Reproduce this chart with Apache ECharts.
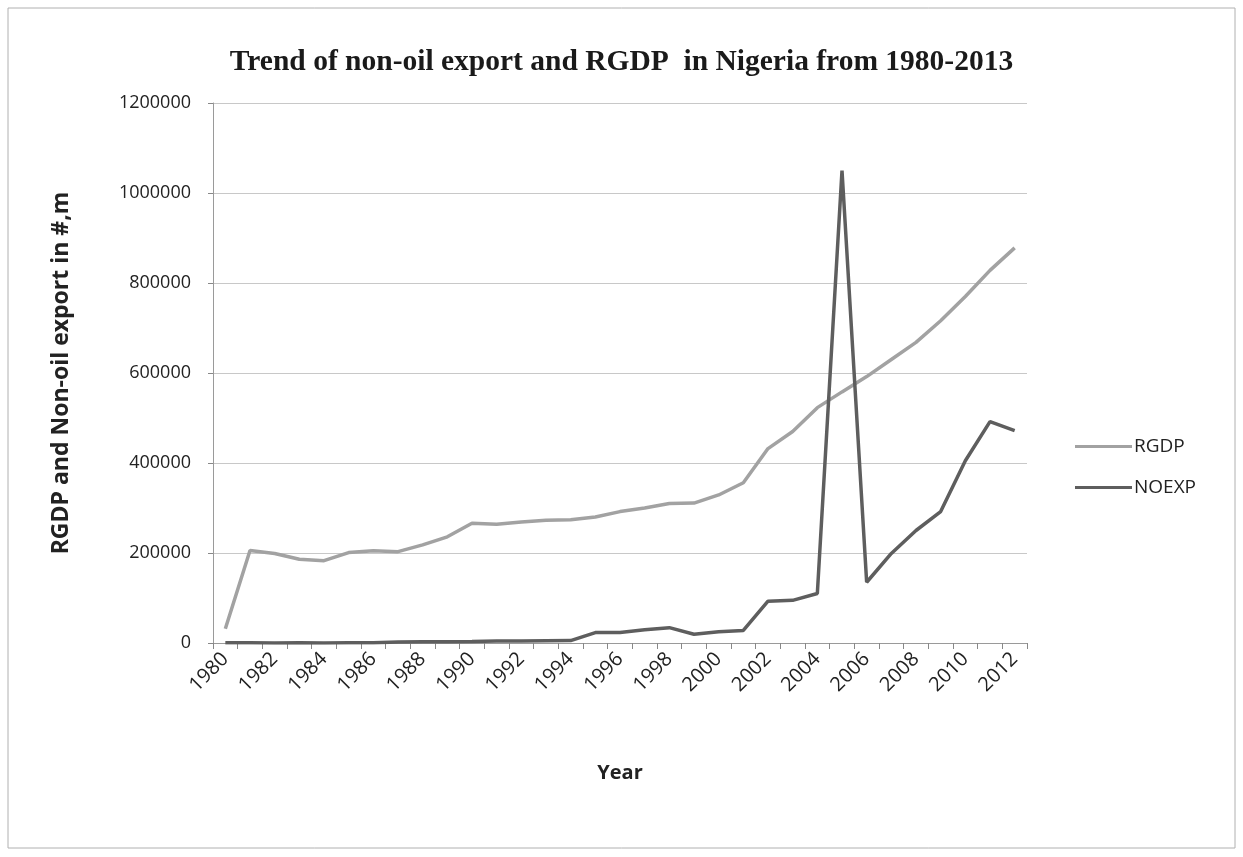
<!DOCTYPE html>
<html>
<head>
<meta charset="utf-8">
<script src="https://cdn.jsdelivr.net/npm/echarts@6/dist/echarts.min.js"></script>
<style>
html,body{margin:0;padding:0;background:#fff;}
#chart{width:1243px;height:857px;}
</style>
</head>
<body>
<div id="chart"></div>
<script>
const years = ["1980","1981","1982","1983","1984","1985","1986","1987","1988","1989","1990","1991","1992","1993","1994","1995","1996","1997","1998","1999","2000","2001","2002","2003","2004","2005","2006","2007","2008","2009","2010","2011","2012"];
const rgdp = [31500,205500,199000,186000,183000,201000,205000,203000,218000,236000,266000,264000,269000,273000,274000,280000,292000,300000,310000,311000,329000,356000,432000,470000,523000,558000,592000,630000,668000,716000,770000,828000,878000];
const noexp = [550,340,200,300,250,500,550,2150,2750,2950,3260,4680,4230,4990,5350,23100,23300,29200,34100,19500,24800,28000,93000,94800,110000,1050000,135000,199000,250000,292000,405000,492000,472000];
const yTicks = [0,200000,400000,600000,800000,1000000,1200000];

const chart = echarts.init(document.getElementById('chart'));
chart.setOption({
  backgroundColor: '#ffffff',
  animation: false,
  title: {
    text: 'Trend of non-oil export and RGDP  in Nigeria from 1980-2013',
    left: 'center', top: 42,
    textStyle: {fontFamily: 'Liberation Serif', fontWeight: 'bold', fontSize: 29.5, color: '#1a1a1a'}
  },
  legend: {
    orient: 'vertical', left: 1070, top: 432, itemGap: 22,
    itemWidth: 57, itemHeight: 3,
    icon: 'rect',
    textStyle: {fontFamily: 'Open Sans', fontSize: 19, color: '#222', padding: [0,0,0,-3]},
    data: ['RGDP','NOEXP']
  },
  grid: {left: 213, right: 216, top: 103, bottom: 214},
  xAxis: {
    type: 'category', data: years, boundaryGap: true,
    name: 'Year', nameLocation: 'middle', nameGap: 120,
    nameTextStyle: {fontFamily: 'Open Sans', fontWeight: 'bold', fontSize: 20, color: '#222'},
    axisLine: {lineStyle: {color: '#9a9a9a', width: 1}},
    axisTick: {show: true, alignWithLabel: false, interval: 0, length: 6, lineStyle: {color: '#888'}},
    axisLabel: {interval: 1, rotate: 45, fontFamily: 'Open Sans', fontSize: 20, color: '#222', margin: 13},
    splitLine: {show: false}
  },
  yAxis: {
    type: 'value', min: yTicks[0], max: yTicks[yTicks.length-1], interval: 200000,
    name: 'RGDP and Non-oil export in #,m', nameLocation: 'middle', nameGap: 140,
    nameTextStyle: {fontFamily: 'Open Sans', fontWeight: 'bold', fontSize: 23, color: '#222'},
    axisLine: {show: true, lineStyle: {color: '#9a9a9a', width: 1}},
    axisTick: {show: true, length: 5, lineStyle: {color: '#888'}},
    axisLabel: {fontFamily: 'Open Sans', fontSize: 18, color: '#222', margin: 22,
      formatter: function (v) { return String(v); }},
    splitLine: {show: true, lineStyle: {color: '#c8c8c8', width: 1}}
  },
  series: [
    {name: 'RGDP', type: 'line', data: rgdp, symbol: 'none',
     lineStyle: {color: '#a2a2a2', width: 3.5}, itemStyle: {color: '#a2a2a2'}},
    {name: 'NOEXP', type: 'line', data: noexp, symbol: 'none',
     lineStyle: {color: '#5e5e5e', width: 3.5}, itemStyle: {color: '#5e5e5e'}}
  ],
  graphic: [
    {type: 'rect', shape: {x: 8, y: 8, width: 1227, height: 840},
     style: {fill: 'none', stroke: '#b0b0b0', lineWidth: 1}, silent: true}
  ]
});
</script>
</body>
</html>
